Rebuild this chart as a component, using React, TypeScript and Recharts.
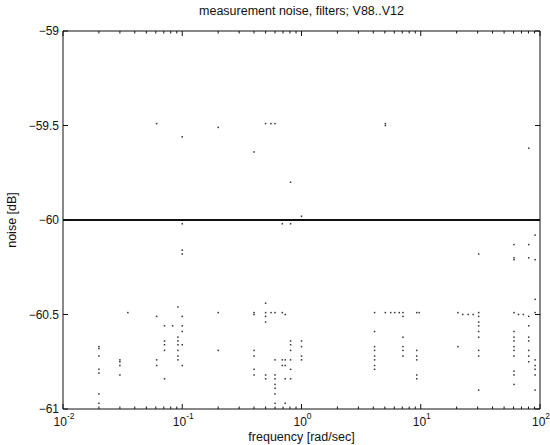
import { ComposedChart, Scatter, Line, XAxis, YAxis } from 'recharts';

// frequency columns [rad/sec] and the noise samples [dB] found at each
const colFreqs = [
  0.02, 0.03, 0.035, 0.061, 0.071, 0.083, 0.092, 0.1, 0.2, 0.4, 0.5, 0.555, 0.6, 0.69, 0.73, 0.81, 1,
  4.1, 5.05, 5.6, 6.05, 6.6, 7.1, 9.25, 9.7, 20.5, 22.5, 25, 27.5, 30.6, 60.5, 66, 72.5, 80.4, 91,
];
const colNoise = [
  [-60.67, -60.68, -60.72, -60.79, -60.81, -60.92, -60.97],
  [-60.74, -60.75, -60.77, -60.82],
  [-60.49],
  [-59.49, -60.51, -60.74, -60.77],
  [-60.56, -60.64, -60.66, -60.69, -60.84],
  [-60.56],
  [-60.46, -60.62, -60.64, -60.66, -60.69, -60.72, -60.74],
  [-59.56, -60.02, -60.16, -60.18, -60.51, -60.56, -60.59, -60.66, -60.77],
  [-59.51, -60.49, -60.69],
  [-59.64, -60.49, -60.5, -60.69, -60.72, -60.79, -60.82],
  [-59.49, -60.44, -60.49, -60.51, -60.54, -60.82, -60.84],
  [-59.49, -60.49],
  [-59.49, -60.49, -60.74, -60.82, -60.84, -60.87, -60.89, -60.92, -60.97],
  [-60.02, -60.49, -60.74, -60.77],
  [-60.5, -60.74, -60.77, -60.84, -60.97],
  [-59.8, -60.02, -60.64, -60.66, -60.69, -60.74, -60.79, -60.84],
  [-59.98, -60.64, -60.67, -60.72, -60.74],
  [-60.49, -60.59, -60.67, -60.69, -60.72, -60.74, -60.77, -60.79],
  [-59.49, -59.5, -60.49],
  [-60.49],
  [-60.49],
  [-60.49],
  [-60.49, -60.51, -60.62, -60.67, -60.69, -60.72],
  [-60.49, -60.69, -60.72, -60.74, -60.82, -60.84],
  [-60.49],
  [-60.49, -60.67],
  [-60.5],
  [-60.5],
  [-60.5],
  [-60.18, -60.49, -60.51, -60.54, -60.56, -60.59, -60.62, -60.69, -60.72, -60.9],
  [-60.13, -60.2, -60.21, -60.49, -60.59, -60.62, -60.64, -60.67, -60.69, -60.72, -60.8, -60.82, -60.87],
  [-60.5],
  [-60.5],
  [-59.62, -60.13, -60.2, -60.51, -60.56, -60.62, -60.64, -60.69, -60.72, -60.75],
  [-60.08, -60.21, -60.42, -60.49, -60.74, -60.77, -60.79, -60.82, -60.9],
];

// the filter noise level
const lineFreqs = [0.01, 100];
const lineNoise = [-60, -60];

const majorTicks = [0.01, 0.1, 1, 10, 100];
const minorSteps = [2, 3, 4, 5, 6, 7, 8, 9];
const yTicks = [-61, -60.5, -60, -59.5, -59];

const xTicks = [
  ...majorTicks,
  ...majorTicks.slice(0, -1).flatMap((d) => minorSteps.map((m) => +(d * m).toPrecision(3))),
].sort((a, b) => a - b);

const dots = colFreqs.flatMap((f, i) => colNoise[i].map((v) => ({ f, v })));
const line = lineFreqs.map((f, i) => ({ f, v: lineNoise[i] }));

const FONT = "'Liberation Sans', Arial, Helvetica, sans-serif";
const INK = '#111';

const isMajor = (v: number) => majorTicks.some((m) => Math.abs(m - v) < 1e-9);

function BottomTick(props: any) {
  const { x, y, payload } = props;
  const major = isMajor(payload.value);
  const exp = Math.round(Math.log10(payload.value));
  return (
    <g>
      <line x1={x} x2={x} y1={y} y2={y - (major ? 5 : 2.5)} stroke={INK} strokeWidth={1} />
      {major && (
        <text x={x + 1} y={y + 17} textAnchor="middle" fontFamily={FONT} fontSize={12} fill={INK}>
          10
          <tspan dy={-7} fontSize={8.5}>
            {exp}
          </tspan>
        </text>
      )}
    </g>
  );
}

function TopTick(props: any) {
  const { x, y, payload } = props;
  const major = isMajor(payload.value);
  return <line x1={x} x2={x} y1={y} y2={y + (major ? 5 : 2.5)} stroke={INK} strokeWidth={1} />;
}

function LeftTick(props: any) {
  const { x, y, payload } = props;
  return (
    <g>
      <line x1={x} x2={x + 5} y1={y} y2={y} stroke={INK} strokeWidth={1} />
      <text
        x={x - 4}
        y={y}
        textAnchor="end"
        dominantBaseline="central"
        fontFamily={FONT}
        fontSize={12}
        fill={INK}
      >
        {String(payload.value).replace('-', '\u2212')}
      </text>
    </g>
  );
}

function RightTick(props: any) {
  const { x, y } = props;
  return <line x1={x} x2={x - 5} y1={y} y2={y} stroke={INK} strokeWidth={1} />;
}

function Dot(props: any) {
  const { cx, cy } = props;
  return <rect x={cx - 0.75} y={cy - 0.75} width={1.5} height={1.5} fill="#333" />;
}

export default function App() {
  return (
    <div style={{ position: 'absolute', left: 0, top: 0, width: 550, height: 445, background: '#fff' }}>
      <ComposedChart width={550} height={445} margin={{ top: 30, right: 9, bottom: 35, left: 62 }}>
        <XAxis
          xAxisId="b"
          dataKey="f"
          type="number"
          scale="log"
          domain={[0.01, 100]}
          allowDataOverflow
          ticks={xTicks}
          interval={0}
          height={1}
          tickSize={0}
          tickMargin={0}
          tickLine={false}
          axisLine={{ stroke: INK }}
          tick={<BottomTick />}
        />
        <XAxis
          xAxisId="t"
          orientation="top"
          dataKey="f"
          type="number"
          scale="log"
          domain={[0.01, 100]}
          allowDataOverflow
          ticks={xTicks}
          interval={0}
          height={1}
          tickSize={0}
          tickMargin={0}
          tickLine={false}
          axisLine={{ stroke: INK }}
          tick={<TopTick />}
        />
        <YAxis
          yAxisId="l"
          dataKey="v"
          type="number"
          domain={[-61, -59]}
          allowDataOverflow
          ticks={yTicks}
          interval={0}
          width={1}
          tickSize={0}
          tickMargin={0}
          tickLine={false}
          axisLine={{ stroke: INK }}
          tick={<LeftTick />}
        />
        <YAxis
          yAxisId="r"
          orientation="right"
          dataKey="v"
          type="number"
          domain={[-61, -59]}
          allowDataOverflow
          ticks={yTicks}
          interval={0}
          width={1}
          tickSize={0}
          tickMargin={0}
          tickLine={false}
          axisLine={{ stroke: INK }}
          tick={<RightTick />}
        />
        <Line
          xAxisId="b"
          yAxisId="l"
          data={line}
          dataKey="v"
          stroke={INK}
          strokeWidth={1.8}
          dot={false}
          isAnimationActive={false}
        />
        <Scatter
          xAxisId="b"
          yAxisId="l"
          data={dots}
          dataKey="v"
          shape={<Dot />}
          isAnimationActive={false}
        />
      </ComposedChart>
      <div
        style={{
          position: 'absolute',
          left: 63,
          width: 477,
          top: 5,
          lineHeight: '13px',
          textAlign: 'center',
          fontFamily: FONT,
          fontSize: 12.5,
          color: INK,
        }}
      >
        measurement noise, filters; V88..V12
      </div>
      <div
        style={{
          position: 'absolute',
          left: 63,
          width: 477,
          top: 431,
          lineHeight: '13px',
          textAlign: 'center',
          fontFamily: FONT,
          fontSize: 12.5,
          color: INK,
        }}
      >
        frequency [rad/sec]
      </div>
      <div
        style={{
          position: 'absolute',
          left: 12,
          top: 220,
          lineHeight: '13px',
          transform: 'translate(-50%, -50%) rotate(-90deg)',
          whiteSpace: 'nowrap',
          fontFamily: FONT,
          fontSize: 12.5,
          color: INK,
        }}
      >
        noise [dB]
      </div>
    </div>
  );
}
